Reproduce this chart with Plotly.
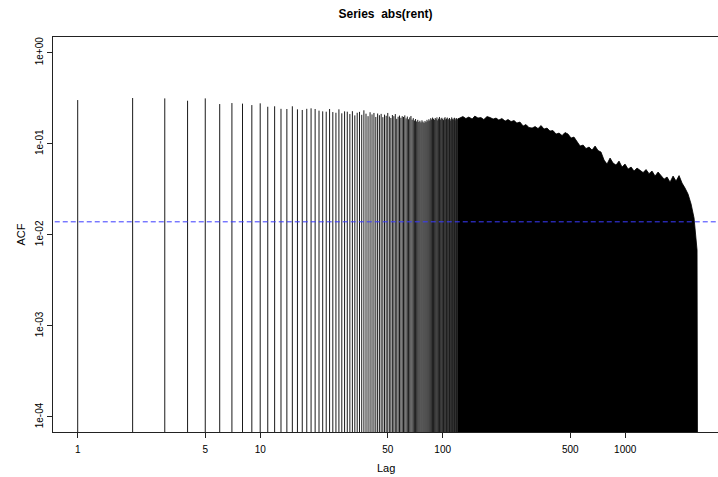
import plotly.graph_objects as go

# ---- data (R acf plot, log-log axes) ----
# individually visible lags 1..120
early_acf = [
    0.302, 0.318, 0.315, 0.297, 0.315, 0.273, 0.280, 0.276, 0.266, 0.278,
    0.255, 0.258, 0.242, 0.241, 0.258, 0.239, 0.235, 0.242, 0.245, 0.241,
    0.231, 0.227, 0.225, 0.241, 0.223, 0.219, 0.239, 0.216, 0.227, 0.225,
    0.212, 0.228, 0.205, 0.219, 0.224, 0.208, 0.233, 0.214, 0.201, 0.222,
    0.210, 0.218, 0.197, 0.215, 0.206, 0.213, 0.196, 0.209, 0.203, 0.218,
    0.199, 0.192, 0.207, 0.201, 0.212, 0.188, 0.198, 0.204, 0.193, 0.201,
    0.197, 0.205, 0.190, 0.199, 0.186, 0.195, 0.202, 0.184, 0.191, 0.180,
    0.187, 0.176, 0.183, 0.174, 0.179, 0.172, 0.181, 0.175, 0.170, 0.178,
    0.173, 0.183, 0.177, 0.186, 0.180, 0.191, 0.185, 0.194, 0.188, 0.183,
    0.192, 0.186, 0.195, 0.181, 0.189, 0.197, 0.184, 0.190, 0.193, 0.187,
    0.182, 0.191, 0.196, 0.185, 0.189, 0.194, 0.183, 0.188, 0.192, 0.180,
    0.187, 0.195, 0.186, 0.190, 0.184, 0.193, 0.181, 0.189, 0.191, 0.185,
]
early_lags = list(range(1, len(early_acf) + 1))

# upper edge of the dense (solid) part of the correlogram, lags 121..2500
env_lags = [121,
            124, 129, 134, 139, 145, 150, 156, 162, 168, 175,
            182, 189, 196, 203, 211, 220, 228, 237, 246, 255,
            265, 276, 286, 297, 309, 321, 333, 346, 359, 373,
            387, 402, 418, 434, 451, 468, 486, 505, 524, 545,
            566, 588, 610, 634, 658, 684, 710, 737, 766, 795,
            826, 858, 891, 925, 961, 998, 1037, 1077, 1118, 1161,
            1206, 1253, 1301, 1351, 1403, 1458, 1514, 1572, 1633, 1696,
            1761, 1829, 1900, 1973, 2049, 2128, 2210, 2296, 2384, 2476,
            2490, 2500]
env_acf = [0.188,
           0.1916, 0.1990, 0.1892, 0.1965, 0.1868, 0.2015, 0.1916, 0.1940, 0.1845, 0.1990,
           0.1940, 0.1868, 0.1916, 0.1822, 0.1892, 0.1776, 0.1845, 0.1754, 0.1799, 0.1689,
           0.1732, 0.1565, 0.1626, 0.1507, 0.1488, 0.1545, 0.1469, 0.1585, 0.1450, 0.1488,
           0.1379, 0.1397, 0.1278, 0.1311, 0.1231, 0.1328, 0.1278, 0.1155, 0.1185, 0.1044,
           0.0944, 0.0968, 0.0886, 0.0920, 0.0852, 0.0944, 0.0842, 0.0811, 0.0662, 0.0598,
           0.0697, 0.0614, 0.0583, 0.0645, 0.0555, 0.0598, 0.0527, 0.0555, 0.0501, 0.0541,
           0.0514, 0.0483, 0.0521, 0.0470, 0.0501, 0.0442, 0.0489, 0.0453, 0.0409, 0.0431,
           0.0379, 0.0442, 0.0389, 0.0447, 0.0370, 0.0326, 0.0280, 0.0218, 0.0153, 0.0068,
           0.00116, 0.00116]

conf_bound = 0.0139

x_ticks = [1, 5, 10, 50, 100, 500, 1000]
y_ticks = [1e-4, 1e-3, 1e-2, 1e-1, 1e0]
y_tick_text = ["1e-04", "1e-03", "1e-02", "1e-01", "1e+00"]

FLOOR = 1e-6
FONT = "Liberation Sans, Arial, sans-serif"

# vertical lines for the early lags
lx, ly = [], []
for lag, v in zip(early_lags, early_acf):
    lx += [lag, lag, None]
    ly += [FLOOR, v, None]

fig = go.Figure()
fig.add_trace(go.Scatter(x=lx, y=ly, mode="lines",
                         line=dict(color="#1a1a1a", width=1),
                         hoverinfo="skip", showlegend=False))

# dense part as a filled region
px = [env_lags[0]] + env_lags + [env_lags[-1]]
py = [FLOOR] + env_acf + [FLOOR]
fig.add_trace(go.Scatter(x=px, y=py, mode="lines", fill="toself",
                         fillcolor="black", line=dict(color="black", width=0.8),
                         hoverinfo="skip", showlegend=False))

# confidence bound
fig.add_trace(go.Scatter(x=[0.5, 5000], y=[conf_bound, conf_bound], mode="lines",
                         line=dict(color="#3a3aff", width=1, dash="5px,3px"),
                         hoverinfo="skip", showlegend=False))

fig.update_layout(
    width=718, height=477,
    margin=dict(l=53, r=0, t=37, b=45),
    paper_bgcolor="white", plot_bgcolor="white",
    font=dict(family=FONT, color="black", size=10),
    title=dict(text="<b>Series  abs(rent)</b>", x=0.5, xref="paper",
               y=1 - 14 / 477, yref="container", yanchor="middle", xanchor="center",
               font=dict(family=FONT, size=12, color="black")),
    xaxis=dict(type="log", range=[-0.1353, 3.5085], showgrid=False, zeroline=False,
               showline=True, linecolor="#222", linewidth=1, mirror=True,
               ticks="outside", ticklen=5, tickcolor="#222", tickwidth=1,
               tickvals=x_ticks, ticktext=[str(t) for t in x_ticks],
               tickfont=dict(size=10, family=FONT), ticklabelstandoff=3),
    yaxis=dict(type="log", range=[-4.165, 0.1725], showgrid=False, zeroline=False,
               showline=True, linecolor="#222", linewidth=1,
               ticks="outside", ticklen=5, tickcolor="#222", tickwidth=1,
               tickvals=y_ticks, ticktext=y_tick_text, tickangle=-90,
               tickfont=dict(size=10, family=FONT)),
    annotations=[
        dict(text="Lag", xref="paper", yref="paper", x=0.5, y=-(468 - 432) / 395,
             showarrow=False, xanchor="center", yanchor="middle",
             font=dict(size=11, family=FONT)),
        dict(text="ACF", xref="paper", yref="paper", x=(20 - 53) / 665, y=0.5,
             showarrow=False, xanchor="center", yanchor="middle", textangle=-90,
             font=dict(size=11, family=FONT)),
    ],
)

fig.write_html("out.html")
